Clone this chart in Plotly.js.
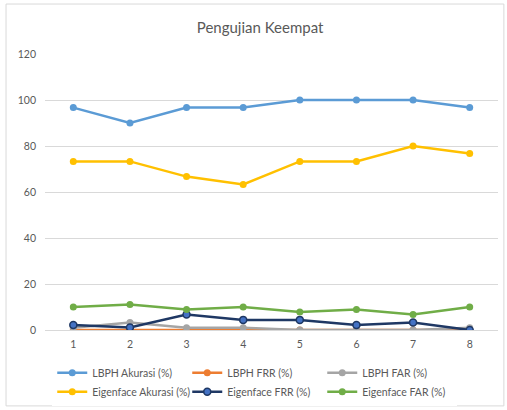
<!DOCTYPE html>
<html>
<head>
<meta charset="utf-8">
<script src="https://cdn.plot.ly/plotly-3.0.1.min.js"></script>
<style>html,body{margin:0;padding:0;background:#fff;}#chart{width:507px;height:410px;}</style>
</head>
<body>
<div id="chart"></div>
<script>
const categories = [1, 2, 3, 4, 5, 6, 7, 8];
const lbphAkurasi = [96.7, 90, 96.7, 96.7, 100, 100, 100, 96.7];
const lbphFRR = [0, 0, 0, 0, 0, 0, 0, 0];
const lbphFAR = [1, 3.3, 1, 1, 0, 0, 0, 1];
const eigenAkurasi = [73.3, 73.3, 66.7, 63.3, 73.3, 73.3, 80, 76.7];
const eigenFRR = [2.2, 1.1, 6.7, 4.4, 4.4, 2.2, 3.3, 0];
const eigenFAR = [10, 11.1, 8.9, 10, 7.8, 8.9, 6.7, 10];
const yTicks = [0, 20, 40, 60, 80, 100, 120];

function series(name, y, color, markerColor) {
  return {
    type: 'scatter', mode: 'lines+markers', name: name,
    x: categories, y: y,
    line: {color: color, width: 2.5},
    marker: {color: markerColor || color, size: 7,
             line: {color: color, width: markerColor ? 1.5 : 0}}
  };
}

const data = [
  series('LBPH Akurasi (%)', lbphAkurasi, '#5B9BD5'),
  series('LBPH FRR (%)', lbphFRR, '#ED7D31'),
  series('LBPH FAR (%)', lbphFAR, '#A5A5A5'),
  series('Eigenface Akurasi (%)', eigenAkurasi, '#FFC000'),
  series('Eigenface FRR (%)', eigenFRR, '#1F3864', '#4472C4'),
  series('Eigenface FAR (%)', eigenFAR, '#70AD47')
];

const layout = {
  width: 507, height: 410,
  margin: {l: 45, r: 9, t: 54, b: 80, autoexpand: false},
  paper_bgcolor: '#fff', plot_bgcolor: '#fff',
  font: {family: 'Lato, "Open Sans", sans-serif', color: '#595959', size: 10.5},
  title: {text: 'Pengujian Keempat', xref: 'container', x: 0.513, xanchor: 'center',
          yref: 'container', y: 0.932, yanchor: 'middle',
          font: {size: 15, color: '#595959'}},
  xaxis: {range: [0.5, 8.5], tickvals: categories, ticktext: categories.map(String),
          showgrid: false, zeroline: false, showline: false, ticks: '', ticklabelstandoff: 6,
          fixedrange: true},
  yaxis: {range: [0, 120], tickvals: yTicks, showgrid: true, gridcolor: '#D9D9D9', gridwidth: 1,
          zeroline: true, zerolinecolor: '#D9D9D9', zerolinewidth: 1, showline: false, ticks: '',
          ticklabelstandoff: 8},
  showlegend: true,
  legend: {orientation: 'h', x: 0.016, xanchor: 'left', y: -0.102, yanchor: 'top',
           entrywidth: 90, entrywidthmode: 'pixels', tracegroupgap: 0,
           font: {size: 10.5, color: '#595959'}, itemwidth: 30},
  shapes: [{type: 'rect', xref: 'paper', yref: 'paper', x0: -0.086, x1: 1.013, y0: -0.275, y1: 1.181,
            line: {color: '#D9D9D9', width: 1}, fillcolor: 'rgba(0,0,0,0)', layer: 'below'}]
};

Plotly.newPlot('chart', data, layout, {displayModeBar: false, staticPlot: true});
</script>
</body>
</html>
